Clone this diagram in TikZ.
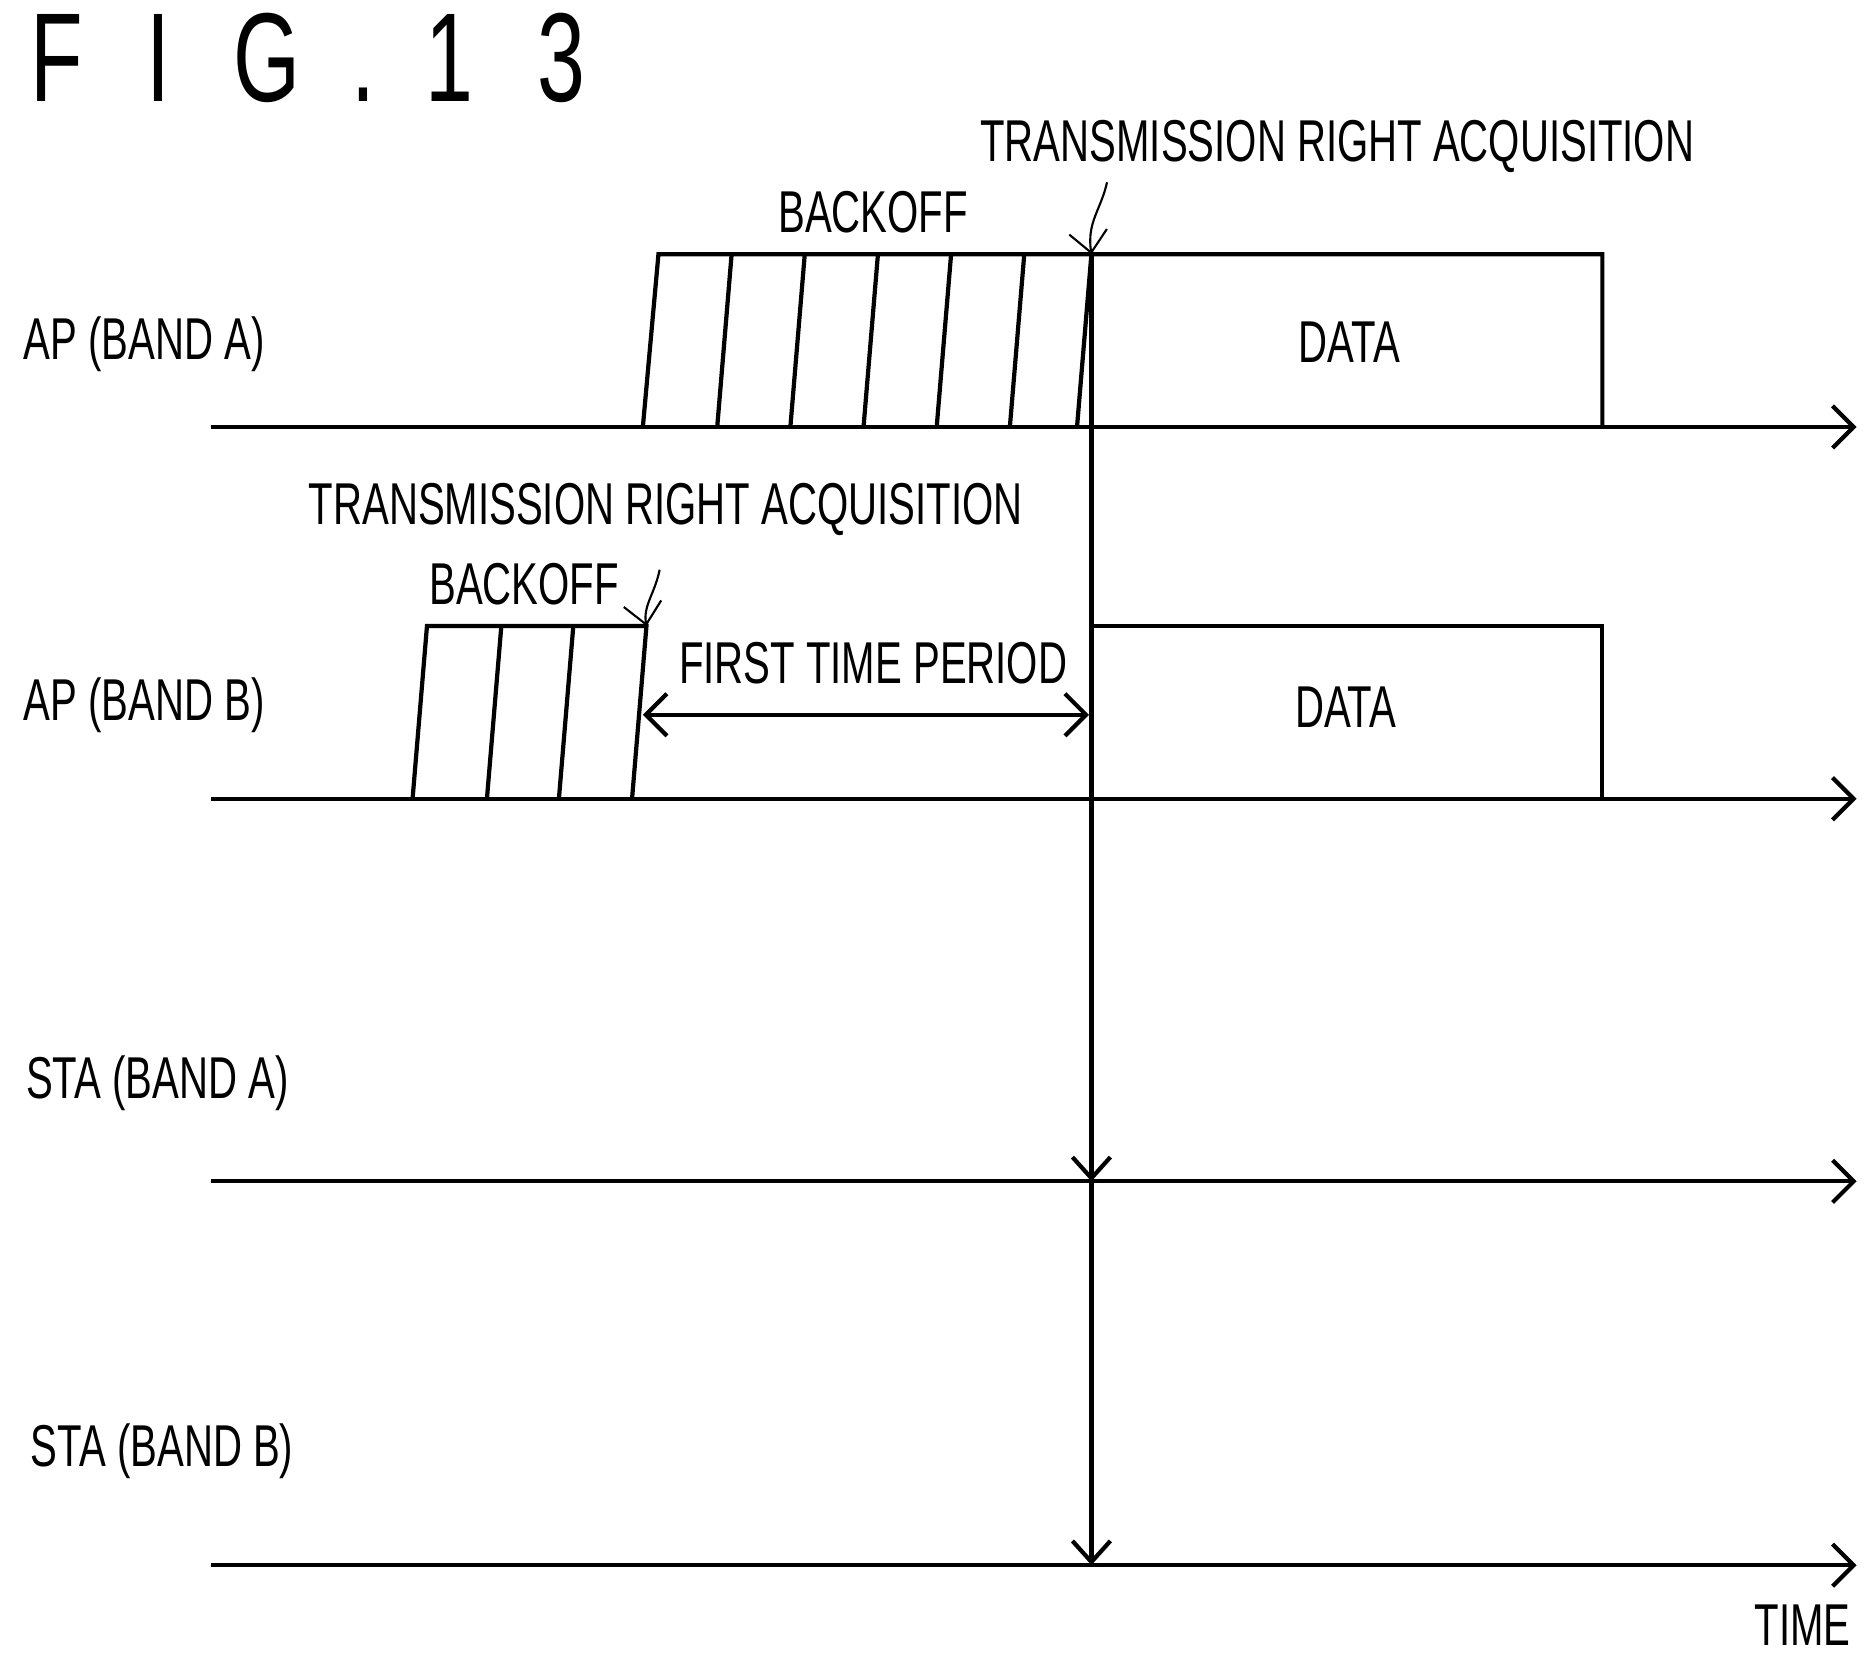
\documentclass[tikz,border=0pt]{standalone}
\usepackage{fontspec}
\setmainfont[FakeStretch=0.68]{Liberation Sans}
\usetikzlibrary{arrows.meta}

\begin{document}
\begin{tikzpicture}[x=0.01cm, y=-0.01cm, line width=1pt,
  lbl/.style={font=\fontsize{14}{16}\selectfont, inner sep=0pt},
  axis/.style={-{Straight Barb[length=5pt, width=10pt]}},
  tip/.style={-{Straight Barb[length=5pt, width=9pt]}}]
\useasboundingbox (0,0) rectangle (1560,1383);
\node[font=\fontsize{30}{34}\selectfont, inner sep=0pt, anchor=west] (fig) at (24,48) {F\hspace{0.5em}I\hspace{0.5em}G\hspace{0.4em}.\hspace{0.4em}1\hspace{0.5em}3};
% time axes
\foreach \y/\n in {356/apa, 666/apb, 985/staa, 1305/stab}
{ \coordinate (\n0) at (176,\y); \coordinate (\n1) at (1548,\y);
  \draw [axis] (\n0) -- (\n1); }
\node[lbl, anchor=west] (lapa) at (18,287) {AP (BAND A)};
\node[lbl, anchor=west] (lapb) at (18,588) {AP (BAND B)};
\node[lbl, anchor=west] (lstaa) at (20,903) {STA (BAND A)};
\node[lbl, anchor=west] (lstab) at (24,1210) {STA (BAND B)};
\node[lbl] (time) at (1503,1355) {TIME};
% band A backoff and data
\draw (536,356) -- (549,212) -- (1336,212) -- (1336,356);
\foreach \x in {598,659,720,781,842}
\draw (\x,356) -- (\x+12,212);
\draw (898,356) -- (910,212);
\node[lbl] (boa) at (728,177) {BACKOFF};
\node[lbl] (dataa) at (1125,285) {DATA};
\node[lbl] (tra) at (1115,122) {TRANSMISSION RIGHT ACQUISITION};
\coordinate (acqa) at (910,212);
\draw [tip, line width=0.5pt] (923,152) .. controls (918,175) and (906,185) .. (acqa);
% band B backoff and data
\draw (344,666) -- (356,522) -- (539,522) -- (527,666);
\foreach \x in {406,466}
\draw (\x,666) -- (\x+12,522);
\draw (910,666) -- (910,522) -- (1336,522) -- (1336,666);
\node[lbl] (bob) at (437,487) {BACKOFF};
\node[lbl] (datab) at (1122,590) {DATA};
\node[lbl] (trb) at (555,425) {TRANSMISSION RIGHT ACQUISITION};
\coordinate (acqb) at (539,522);
\draw [tip, line width=0.5pt] (550,475) .. controls (546,495) and (536,505) .. (acqb);
% first time period
\node[lbl] (ftp) at (728,553) {FIRST TIME PERIOD};
\coordinate (ftp0) at (536,596); \coordinate (ftp1) at (908,596);
\draw [{Straight Barb[length=5pt, width=10pt]}-{Straight Barb[length=5pt, width=10pt]}] (ftp0) -- (ftp1);
% notification to stations
\draw [tip] (acqa) -- (910,985);
\draw [tip] (910,985) -- (910,1305);
\end{tikzpicture}
\end{document}
